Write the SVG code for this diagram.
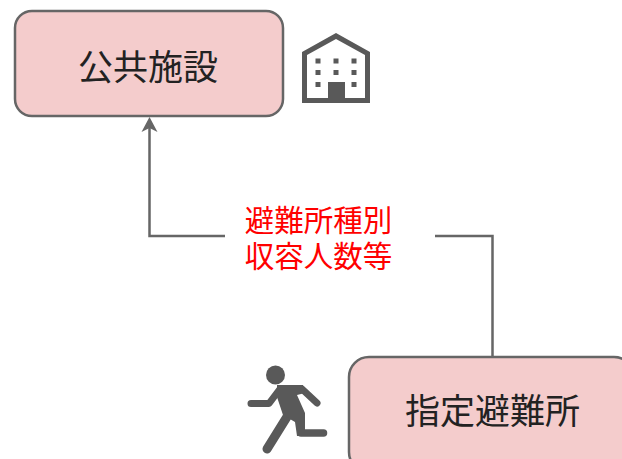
<svg xmlns="http://www.w3.org/2000/svg" width="622" height="459" viewBox="0 0 622 459">
<style>
.box{fill:#f4cccc;stroke:#666;stroke-width:2.5}
.lbl{font-family:"Noto Sans CJK JP","Noto Sans CJK SC",sans-serif;font-size:35px;fill:#222;text-anchor:middle}
.red{font-family:"Liberation Sans","Noto Sans CJK JP","Noto Sans CJK SC",sans-serif;font-size:29.500px;fill:#ff0000;text-anchor:middle}
.ic{fill:#595959}
.con{fill:none;stroke:#666;stroke-width:2.5}
.limb{fill:none;stroke:#595959;stroke-linecap:round;stroke-linejoin:round}
</style>
<rect width="622" height="459" fill="#fff"/>
<g id="connectors">
<path class="con" d="M225 236H149.500V124"/>
<path d="M149.500 117L157.500 132L149.500 128L141.500 132Z" fill="#666"/>
<path class="con" d="M435 236H492.500V357"/>
</g>
<g id="public-facility">
<rect class="box" x="15" y="11" width="268" height="105" rx="17"/>
<text class="lbl" x="148" y="80">公共施設</text>
</g>
<g id="building-icon">
<path class="ic" fill-rule="evenodd" d="M336 33L370 52V103H302V52ZM336 39L307 55V98H328V82H345V98H365V55Z"/>
<g class="ic">
<rect x="315.500" y="58.500" width="5" height="5"/><rect x="333.500" y="58.500" width="5" height="5"/><rect x="351.500" y="58.500" width="5" height="5"/>
<rect x="315.500" y="70" width="5" height="5"/><rect x="333.500" y="70" width="5" height="5"/><rect x="351.500" y="70" width="5" height="5"/>
<rect x="315.500" y="82" width="5" height="5"/><rect x="351.500" y="82" width="5" height="5"/>
</g>
</g>
<g id="label">
<text class="red" x="318.500" y="231">避難所種別</text>
<text class="red" x="318.500" y="267">収容人数等</text>
</g>
<g id="shelter">
<rect class="box" x="349" y="357" width="285" height="115" rx="20"/>
<text class="lbl" x="492.500" y="424">指定避難所</text>
</g>
<g id="runner-icon">
<circle class="ic" cx="275.500" cy="375" r="9.500"/>
<path class="limb" stroke-width="7" d="M251 403.500H269L280 389H302L317 403"/>
<path class="limb" stroke-width="9" d="M267 449L290 412"/>
<path class="limb" stroke-width="7.500" d="M301 433H323.500"/>
<path class="ic" d="M277 385L303 385L305 393L297 395L305 413V436L297 436L295 422L283 415L277 397Z"/>
</g>
</svg>
